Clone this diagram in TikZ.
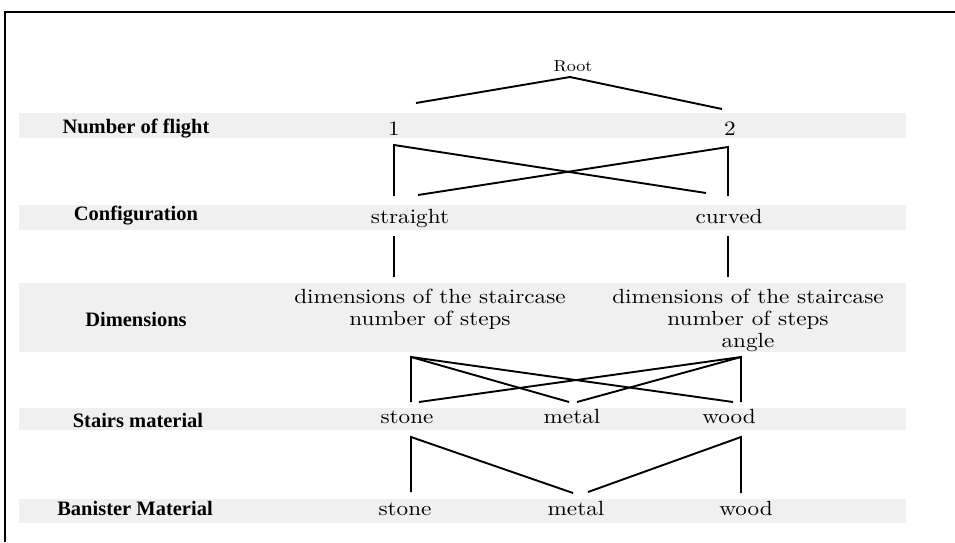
\documentclass[tikz,border=0pt]{standalone}
\usepackage{fontspec}
\usepackage{graphicx}
\newfontfamily\labelfont{Liberation Serif}
\newfontfamily\valfont{lmroman10-regular}[Extension=.otf]
\definecolor{bandgray}{HTML}{F0F0F0}
% values are set in a slightly widened Latin Modern
\newcommand\widetext[1]{\scalebox{1.13}[1]{#1}}

\tikzset{
  band/.style={fill=bandgray, draw=none},
  frameline/.style={line width=1.4pt},
  conn/.style={line width=1.9pt},
  rowlabel/.style={font=\labelfont\bfseries\fontsize{20.5}{24}\selectfont, inner sep=0pt, anchor=base},
  val/.style={font=\valfont\fontsize{20.5}{22}\selectfont, inner sep=0pt, anchor=base},
  rootval/.style={font=\valfont\fontsize{16}{18}\selectfont, inner sep=0pt, anchor=base},
}

\begin{document}
\begin{tikzpicture}[x=1pt, y=-1pt]
  \useasboundingbox (0,0) rectangle (955,542);

  % grey row bands
  \fill[band] (19,113) rectangle (906,138);
  \fill[band] (19,205) rectangle (906,230);
  \fill[band] (19,283) rectangle (906,352);
  \fill[band] (19,408) rectangle (906,430);
  \fill[band] (19,499) rectangle (906,523);

  % frame (top and left edges)
  \draw[frameline] (5,542) -- (5,12) -- (955,12);

  % row labels
  \node[rowlabel] (lflight) at (136,133) {Number of flight};
  \node[rowlabel] (lconf)   at (136,220) {Configuration};
  \node[rowlabel] (ldim)    at (136,326) {Dimensions};
  \node[rowlabel] (lstair)  at (138,427) {Stairs material};
  \node[rowlabel] (lban)    at (135,515) {Banister Material};

  % tree nodes
  \node[rootval] (root) at (573,71) {\widetext{Root}};
  \node[val] (n1) at (394,135) {\widetext{1}};
  \node[val] (n2) at (730,135) {\widetext{2}};
  \node[val] (straight) at (410,223) {\widetext{straight}};
  \node[val] (curved)   at (729,223) {\widetext{curved}};
  \node[val, anchor=north, align=center] (dimL) at (430,289)
    {\widetext{dimensions of the staircase}\\\widetext{number of steps}};
  \node[val, anchor=north, align=center] (dimR) at (748,289)
    {\widetext{dimensions of the staircase}\\\widetext{number of steps}\\\widetext{angle}};
  \node[val] (sstone) at (407,423) {\widetext{stone}};
  \node[val] (smetal) at (572,423) {\widetext{metal}};
  \node[val] (swood)  at (729,423) {\widetext{wood}};
  \node[val] (bstone) at (405,515) {\widetext{stone}};
  \node[val] (bmetal) at (576,515) {\widetext{metal}};
  \node[val] (bwood)  at (746,515) {\widetext{wood}};

  % connector end points
  \coordinate (root-d)  at ([shift={(-3,6)}]root.base);
  \coordinate (n1-u)    at ([shift={(22,-32)}]n1.base);
  \coordinate (n1-d)    at ([shift={(0,10)}]n1.base);
  \coordinate (n2-u)    at ([shift={(-8,-26)}]n2.base);
  \coordinate (n2-d)    at ([shift={(-2,12)}]n2.base);
  \coordinate (st-u1)   at ([shift={(-16,-27)}]straight.base);
  \coordinate (st-u2)   at ([shift={(8,-28)}]straight.base);
  \coordinate (st-d)    at ([shift={(-16,13)}]straight.base);
  \coordinate (cu-u1)   at ([shift={(-1,-27)}]curved.base);
  \coordinate (cu-u2)   at ([shift={(-23,-30)}]curved.base);
  \coordinate (cu-d)    at ([shift={(-1,13)}]curved.base);
  \coordinate (dL-u)    at ([shift={(-36,-12)}]dimL.north);
  \coordinate (dL-d)    at ([shift={(-19,68)}]dimL.north);
  \coordinate (dR-u)    at ([shift={(-20,-12)}]dimR.north);
  \coordinate (dR-d)    at ([shift={(-7,68)}]dimR.north);
  \coordinate (ss-u1)   at ([shift={(4,-21)}]sstone.base);
  \coordinate (ss-u2)   at ([shift={(12,-21)}]sstone.base);
  \coordinate (ss-d)    at ([shift={(4,14)}]sstone.base);
  \coordinate (sm-u1)   at ([shift={(-3,-21)}]smetal.base);
  \coordinate (sm-u2)   at ([shift={(5,-21)}]smetal.base);
  \coordinate (sw-u1)   at ([shift={(4,-21)}]swood.base);
  \coordinate (sw-u2)   at ([shift={(12,-21)}]swood.base);
  \coordinate (sw-d)    at ([shift={(12,14)}]swood.base);
  \coordinate (bs-u)    at ([shift={(6,-23)}]bstone.base);
  \coordinate (bm-u1)   at ([shift={(-3,-22)}]bmetal.base);
  \coordinate (bm-u2)   at ([shift={(12,-23)}]bmetal.base);
  \coordinate (bw-u)    at ([shift={(-5,-22)}]bwood.base);

  % Root -> number of flights
  \draw[conn] (n1-u) -- (root-d) -- (n2-u);
  % flights -> configuration
  \draw[conn] (st-u1) -- (n1-d) -- (cu-u2);
  \draw[conn] (cu-u1) -- (n2-d) -- (st-u2);
  % configuration -> dimensions
  \draw[conn] (st-d) -- (dL-u);
  \draw[conn] (cu-d) -- (dR-u);
  % dimensions -> stairs material
  \draw[conn] (ss-u1) -- (dL-d) -- (sm-u1);
  \draw[conn] (dL-d) -- (sw-u1);
  \draw[conn] (sw-u2) -- (dR-d) -- (ss-u2);
  \draw[conn] (dR-d) -- (sm-u2);
  % stairs material -> banister material
  \draw[conn] (bs-u) -- (ss-d) -- (bm-u1);
  \draw[conn] (bw-u) -- (sw-d) -- (bm-u2);
\end{tikzpicture}
\end{document}
